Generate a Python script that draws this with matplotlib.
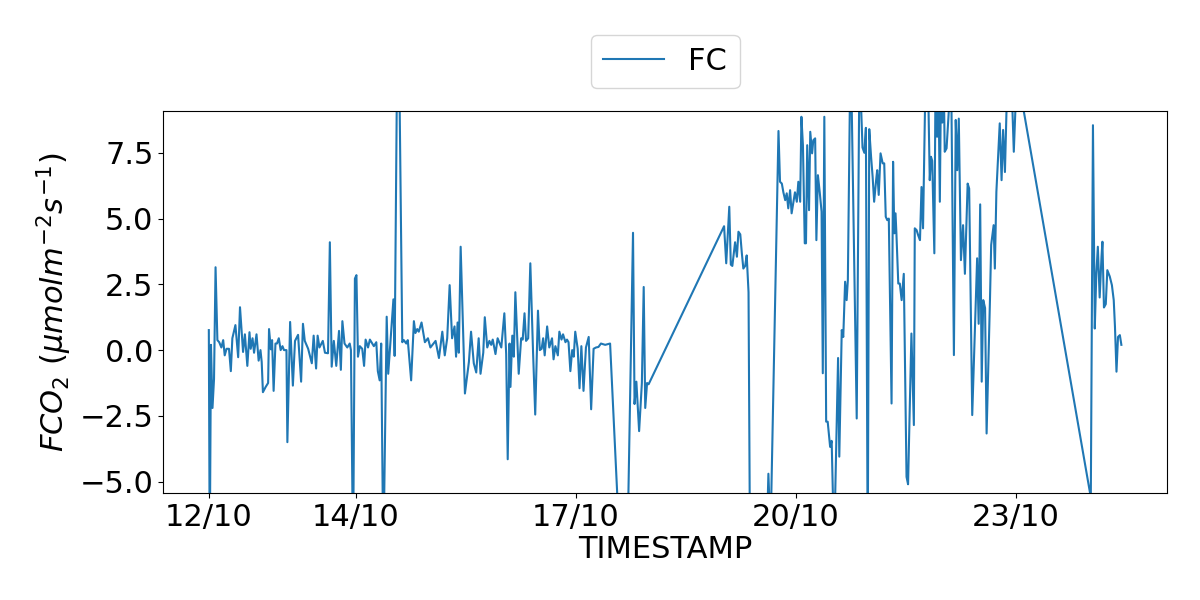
import datetime as dt
import numpy as np
import matplotlib
matplotlib.use("Agg")
import matplotlib.pyplot as plt
import matplotlib.dates as mdates

# Inicio de la serie
inicio = dt.datetime(2023, 10, 12, 0, 0)

# Horas desde el inicio
horas = [
    0.0, 0.3, 0.7, 1.2, 1.7, 2.2, 2.8, 3.4, 4.1, 4.7, 5.2, 5.8, 6.6, 7.2, 7.7,
    8.7, 9.6, 10.2, 11.2, 11.8, 12.6, 13.3, 13.7, 14.3, 14.8, 15.6, 16.3, 16.9,
    17.3, 17.7, 18.6, 19.4, 19.7, 20.3, 20.7, 21.2, 21.8, 22.3, 22.9, 23.5, 24.1,
    24.6, 25.4, 25.7, 26.6, 27.5, 28.2, 29.2, 30.2, 30.8, 31.4, 32.5, 33.7, 34.3,
    35.1, 35.6, 36.2, 37.3, 38.0, 39.0, 39.6, 40.2, 40.9, 41.7, 42.6, 43.2, 43.7,
    44.4, 45.3, 46.1, 46.5, 47.2, 47.8, 48.3, 48.8, 49.4, 50.2, 50.8, 51.3, 52.1,
    52.7, 53.5, 54.0, 54.8, 55.3, 55.9, 56.4, 57.1, 58.2, 58.7, 59.5, 60.4, 60.8,
    61.9, 63.3, 63.8, 64.6, 65.1, 66.2, 67.1, 67.6, 68.2, 68.7, 69.6, 70.7, 71.7,
    72.5, 74.2, 75.3, 76.4, 77.2, 78.0, 78.8, 79.6, 80.4, 80.9, 81.4, 81.8, 82.4,
    83.1, 83.8, 85.1, 85.8, 86.7, 87.5, 88.3, 88.9, 89.8, 90.3, 91.1, 91.8, 92.4,
    92.9, 93.8, 94.5, 95.7, 96.7, 97.3, 97.8, 98.4, 98.7, 99.3, 99.8, 100.3,
    101.4, 102.2, 102.7, 103.3, 103.8, 104.5, 105.2, 106.1, 106.8, 107.7, 108.3,
    108.9, 109.4, 109.9, 110.7, 111.4, 112.3, 112.8, 113.4, 114.2, 114.7, 115.4,
    115.9, 116.7, 117.2, 117.7, 118.3, 118.9, 119.4, 119.9, 120.7, 121.3, 121.9,
    122.6, 123.4, 124.3, 125.1, 125.9, 126.7, 127.5, 128.3, 129.7, 131.3, 136.3,
    138.8, 139.3, 139.9, 140.8, 141.7, 142.3, 142.8, 143.4, 143.9, 168.6, 169.3,
    170.3, 170.8, 171.3, 172.2, 172.8, 173.3, 173.9, 174.4, 174.9, 175.5, 176.0,
    176.6, 177.1, 182.7, 183.1, 183.8, 186.4, 186.9, 187.5, 188.0, 188.6, 189.1,
    189.6, 190.2, 190.7, 191.3, 191.8, 192.4, 192.9, 193.5, 193.9, 194.4, 195.0,
    195.4, 195.8, 196.4, 196.8, 197.4, 197.8, 198.4, 198.8, 199.3, 199.9, 200.5,
    200.9, 201.4, 202.0, 202.5, 203.3, 203.8, 204.6, 205.9, 206.3, 207.1, 207.6,
    208.2, 208.7, 209.1, 210.0, 212.0, 212.9, 213.9, 214.5, 215.0, 215.6, 216.1,
    216.7, 217.2, 217.7, 218.3, 218.7, 219.2, 219.8, 220.5, 221.0, 221.5, 222.0,
    222.5, 223.4, 223.9, 224.3, 224.7, 225.0, 225.6, 226.1, 226.7, 227.4, 228.3,
    228.8, 229.9, 230.7, 231.0, 231.6, 232.1, 232.7, 233.2, 233.7, 234.6, 235.3,
    235.9, 236.3, 236.7, 237.4, 237.8, 238.3, 238.7, 239.2, 239.6, 240.0, 240.5,
    240.8, 241.4, 241.9, 242.6, 243.0, 243.8, 244.4, 244.9, 245.4, 246.1, 246.8,
    247.4, 248.3, 248.8, 249.8, 251.4, 251.9, 252.4, 252.9, 253.4, 254.0, 254.5,
    255.6, 256.0, 256.8, 257.2, 257.7, 258.8, 259.4, 259.9, 260.5, 261.4, 262.4,
    263.4, 264.4, 288.6, 289.3, 289.9, 290.4, 290.9, 291.5, 292.1, 292.4, 292.9,
    293.5, 294.0, 294.8, 295.5, 296.1, 296.5, 297.0, 297.5, 298.1, 298.6,
]

# Flujo de CO2
fc = [
    0.76, -8.0, 0.2, -2.2, -1.1, 3.15, 0.38, 0.3, 0.1, 0.38, -0.2, 0.05, 0.05,
    -0.8, 0.45, 0.95, -0.27, 1.63, -0.07, 0.6, -0.6, 0.68, 0.05, 0.45, -0.1, 0.6,
    -0.4, 0.0, -0.45, -1.6, -1.4, -1.25, 0.8, 0.03, 0.38, -1.55, 0.25, 0.25, 0.45,
    0.0, 0.15, 0.0, 0.0, -3.5, 1.07, -1.35, 0.35, 0.58, -1.2, 1.0, 0.35, 0.05,
    -0.5, 0.55, -0.7, 0.55, 0.1, 0.35, -0.1, -0.12, 4.1, -0.63, 0.35, -0.6, 0.73,
    -0.75, 1.1, 0.25, 0.1, 0.25, 0.0, -8.0, 2.72, 2.85, -0.25, 0.15, 0.05, -0.6,
    0.4, 0.1, 0.4, 0.25, 0.15, 0.3, -0.8, -1.15, 0.25, -8.0, 1.27, -0.9, 0.45,
    1.93, -0.22, 15.0, 0.3, 0.38, 0.25, 0.38, -1.15, 1.1, 0.65, 0.8, 0.7, 1.05,
    0.3, 0.45, 0.1, 0.35, -0.3, 0.7, -0.2, 0.45, 2.47, 0.45, 0.9, -0.25, 1.05,
    -0.1, 3.93, 1.2, -1.65, -0.45, 0.7, -0.5, -0.85, 0.45, -0.9, -0.1, 1.25, 0.1,
    0.35, 0.2, 0.4, -0.15, 0.45, 0.1, 1.4, -0.15, -4.15, 0.25, -1.4, 0.55, -0.25,
    2.2, -0.9, 0.45, 0.4, 1.4, 0.35, 0.45, 3.3, -0.1, -2.45, 1.5, 0.0, 0.05, 0.45,
    -0.2, 0.9, 0.1, 0.45, -0.35, 0.15, -0.2, 0.7, 0.4, 0.6, 0.3, 0.4, 0.3, -0.8,
    0.0, -0.25, 0.7, 0.05, -1.45, 0.15, -1.55, 0.1, 0.5, -2.25, 0.05, 0.1, 0.12,
    0.25, 0.2, 0.25, -12.0, 4.46, -2.05, -1.2, -3.08, -1.25, 2.4, -2.2, -1.25,
    -1.3, 4.71, 3.3, 5.45, 3.25, 3.2, 4.1, 3.55, 4.5, 4.4, 3.7, 3.1, 3.2, 3.6,
    2.2, -8.0, -6.5, -4.7, -7.0, 8.33, 6.4, 6.33, 6.0, 5.7, 5.96, 5.39, 6.08, 5.2,
    5.64, 6.0, 5.64, 6.4, 5.64, 8.87, 7.79, 4.06, 4.06, 7.79, 5.32, 8.3, 7.48,
    7.98, 8.05, 4.18, 6.65, 6.0, 5.26, -0.88, 8.87, -2.72, -2.72, -3.68, -3.45,
    -7.5, -0.3, -4.05, 0.76, 0.5, 2.6, 1.9, 2.66, 11.9, -2.6, 11.0, 7.7, 7.5,
    8.45, -8.0, 8.4, 7.35, 6.6, 5.64, 6.4, 6.84, 5.9, 7.48, 7.1, 7.1, 5.07, 4.94,
    5.0, -2.03, 7.16, 4.44, 5.2, 4.4, 2.53, 2.53, 1.9, 2.9, -4.82, -5.1, 0.63,
    -2.85, 4.63, 4.56, 4.37, 4.18, 6.2, 4.63, 11.0, 10.5, 6.46, 7.35, 7.2, 3.68,
    10.5, 8.11, 10.5, 5.64, 10.5, 8.65, 10.0, 7.54, 7.67, 8.65, 10.0, 9.3, -0.19,
    8.75, 6.84, 8.8, 3.42, 4.75, 2.9, 6.33, 6.14, -2.47, 3.49, 1.0, 5.54, -1.2,
    1.9, 1.6, -3.17, 1.9, 4.0, 4.75, 3.1, 6.02, 8.62, 6.46, 8.37, 6.77, 10.9,
    11.1, 7.54, 10.6, -5.6, 8.55, 0.82, 2.9, 3.93, 2.0, 3.55, 4.12, 1.62, 1.75,
    3.04, 2.8, 2.47, 1.9, 0.9, -0.82, 0.5, 0.57, 0.2,
]

# Marcas del eje x
dias_ticks = [12, 14, 17, 20, 23]


def grafico_fc():
    tiempo = [inicio + dt.timedelta(hours=h) for h in horas]

    fig = plt.figure(figsize=(12, 6), dpi=100)
    ax = fig.add_axes([0.136, 0.178, 0.8365, 0.637])

    ax.plot(tiempo, fc, label='FC')
    ax.set_ylim(-5.44, 9.09)

    ax.set_xticks([dt.datetime(2023, 10, d) for d in dias_ticks])
    ax.xaxis.set_major_formatter(mdates.DateFormatter('%d/%m'))

    ax.tick_params(labelsize=22)
    ax.set_xlabel('TIMESTAMP', fontsize=22, labelpad=2)
    ax.set_ylabel(r'$FCO_2\ (\mu molm^{-2}s^{-1})$', fontsize=22)
    ax.legend(loc='lower center', bbox_to_anchor=(0.5, 1.02), fontsize=22)

    fig.savefig('out.png', dpi=100)


if __name__ == '__main__':
    print(len(horas), len(fc))
    grafico_fc()
